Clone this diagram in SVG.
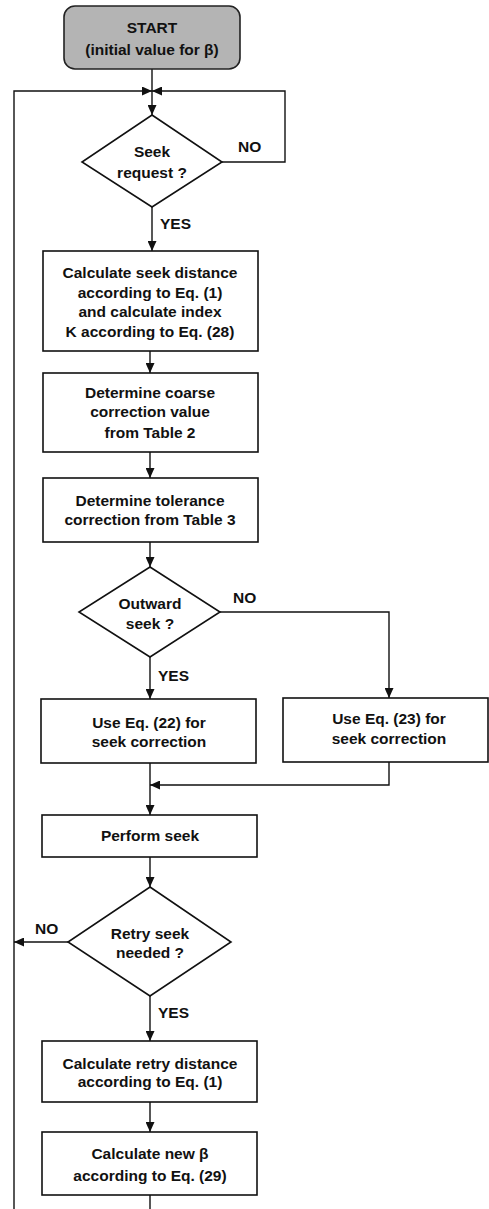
<svg xmlns="http://www.w3.org/2000/svg" width="489" height="1209" viewBox="0 0 489 1209">
  <style>
    .box { fill: #ffffff; stroke: #111111; stroke-width: 1.6; }
    .start { fill: #b4b4b4; stroke: #222222; stroke-width: 1.6; }
    .wire { fill: none; stroke: #111111; stroke-width: 1.4; }
    .arr { marker-end: url(#head); }
    text { font-family: "Liberation Sans", Arial, sans-serif; font-size: 15.5px; font-weight: bold; fill: #111111; text-anchor: middle; dominant-baseline: central; }
    .lbl { text-anchor: start; }
  </style>
  <defs>
    <marker id="head" markerUnits="userSpaceOnUse" markerWidth="10" markerHeight="9" refX="10" refY="4.5" orient="auto">
      <path d="M0,0 L10,4.5 L0,9 z" fill="#111111"/>
    </marker>
  </defs>

  <!-- connectors -->
  <g id="connectors">
    <!-- start to junction -->
    <line class="wire" x1="152" y1="69" x2="152" y2="91"/>
    <!-- junction to seek decision -->
    <line class="wire arr" x1="152" y1="91" x2="152" y2="115"/>
    <!-- main loop back from bottom -->
    <polyline class="wire arr" points="14,1209 14,91 152,91"/>
    <!-- NO loop of seek request -->
    <polyline class="wire arr" points="222,162 285,162 285,91 152,91"/>
    <!-- YES -->
    <line class="wire arr" x1="152" y1="207" x2="152" y2="251"/>
    <line class="wire arr" x1="150" y1="351" x2="150" y2="373"/>
    <line class="wire arr" x1="150" y1="452" x2="150" y2="478"/>
    <line class="wire arr" x1="150" y1="542" x2="150" y2="567"/>
    <!-- outward seek -->
    <line class="wire arr" x1="150" y1="657" x2="150" y2="699"/>
    <polyline class="wire arr" points="220,612 389,612 389,698"/>
    <!-- merge -->
    <polyline class="wire arr" points="389,762 389,785 150,785"/>
    <line class="wire arr" x1="150" y1="763" x2="150" y2="815"/>
    <line class="wire arr" x1="150" y1="857" x2="150" y2="887"/>
    <!-- retry -->
    <line class="wire arr" x1="68" y1="942" x2="14" y2="942"/>
    <line class="wire arr" x1="150" y1="996" x2="150" y2="1041"/>
    <line class="wire arr" x1="150" y1="1102" x2="150" y2="1132"/>
    <line class="wire" x1="150" y1="1195" x2="150" y2="1209"/>
  </g>

  <!-- edge labels -->
  <g id="labels">
    <text class="lbl" x="238" y="146">NO</text>
    <text class="lbl" x="160" y="223">YES</text>
    <text class="lbl" x="233" y="597">NO</text>
    <text class="lbl" x="158" y="675">YES</text>
    <text class="lbl" x="35" y="928">NO</text>
    <text class="lbl" x="158" y="1012">YES</text>
  </g>

  <g id="start">
    <rect class="start" x="64" y="6" width="176" height="63" rx="11"/>
    <text x="152" y="27">START</text>
    <text x="152" y="49">(initial value for β)</text>
  </g>

  <g id="seek-request">
    <polygon class="box" points="152,115 222,162 152,207 82,162"/>
    <text x="152" y="151">Seek</text>
    <text x="152" y="172">request ?</text>
  </g>

  <g id="calc-distance">
    <rect class="box" x="43" y="251" width="215" height="100"/>
    <text x="150" y="272">Calculate seek distance</text>
    <text x="150" y="292">according to Eq. (1)</text>
    <text x="150" y="311">and calculate index</text>
    <text x="150" y="331">K according to Eq. (28)</text>
  </g>

  <g id="coarse">
    <rect class="box" x="43" y="373" width="215" height="79"/>
    <text x="150" y="392">Determine coarse</text>
    <text x="150" y="411">correction value</text>
    <text x="150" y="432">from Table 2</text>
  </g>

  <g id="tolerance">
    <rect class="box" x="43" y="478" width="215" height="64"/>
    <text x="150" y="500">Determine tolerance</text>
    <text x="150" y="519">correction from Table 3</text>
  </g>

  <g id="outward">
    <polygon class="box" points="150,567 220,612 150,657 79,612"/>
    <text x="150" y="603">Outward</text>
    <text x="150" y="623">seek ?</text>
  </g>

  <g id="eq22">
    <rect class="box" x="41" y="699" width="215" height="64"/>
    <text x="149" y="722">Use Eq. (22) for</text>
    <text x="149" y="741">seek correction</text>
  </g>

  <g id="eq23">
    <rect class="box" x="283" y="698" width="205" height="64"/>
    <text x="389" y="718">Use Eq. (23) for</text>
    <text x="389" y="738">seek correction</text>
  </g>

  <g id="perform">
    <rect class="box" x="42" y="815" width="215" height="42"/>
    <text x="150" y="835">Perform seek</text>
  </g>

  <g id="retry">
    <polygon class="box" points="150,887 231,942 150,996 68,942"/>
    <text x="150" y="933">Retry seek</text>
    <text x="150" y="952">needed ?</text>
  </g>

  <g id="retry-distance">
    <rect class="box" x="42" y="1041" width="215" height="61"/>
    <text x="150" y="1063">Calculate retry distance</text>
    <text x="150" y="1081">according to Eq. (1)</text>
  </g>

  <g id="new-beta">
    <rect class="box" x="42" y="1132" width="215" height="63"/>
    <text x="150" y="1153">Calculate new β</text>
    <text x="150" y="1175">according to Eq. (29)</text>
  </g>
</svg>
